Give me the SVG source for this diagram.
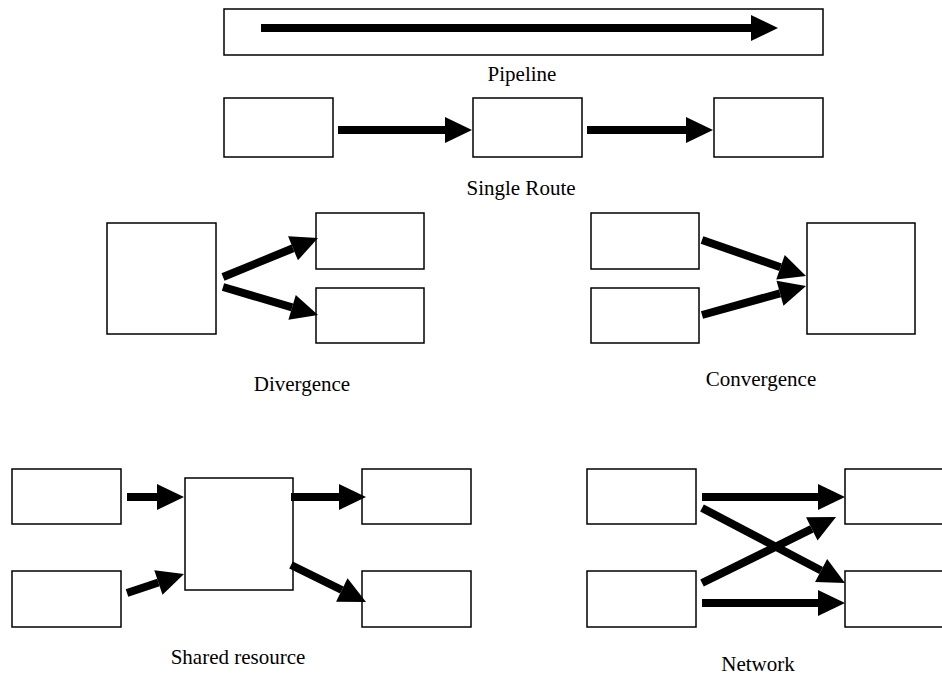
<svg xmlns="http://www.w3.org/2000/svg" width="942" height="677" viewBox="0 0 942 677">
<style>
.box{fill:#fff;stroke:#000;stroke-width:1.5}
.arr{stroke:#000;stroke-width:8;fill:none;marker-end:url(#ah)}
.lbl{font-family:"Liberation Serif","Times New Roman",serif;font-size:21px;fill:#000;text-anchor:middle}
</style>
<defs>
<marker id="ah" markerUnits="userSpaceOnUse" markerWidth="28" markerHeight="28" viewBox="0 -14 28 28" refX="0" refY="0" orient="auto" overflow="visible">
<path d="M0,-13 L27,0 L0,13 Z" fill="#000"/>
</marker>
</defs>
<rect width="942" height="677" fill="#fff"/>

<g id="pipeline"><rect class="box" x="224" y="9" width="599" height="46"/></g>

<g id="sr-a"><rect class="box" x="224" y="98" width="109" height="59"/></g>
<g id="sr-b"><rect class="box" x="473" y="98" width="109" height="59"/></g>
<g id="sr-c"><rect class="box" x="714" y="98" width="109" height="59"/></g>

<g id="div-src"><rect class="box" x="107" y="223" width="109" height="111"/></g>
<g id="div-t1"><rect class="box" x="316" y="213" width="108" height="56"/></g>
<g id="div-t2"><rect class="box" x="316" y="288" width="108" height="55"/></g>

<g id="conv-s1"><rect class="box" x="591" y="213" width="108" height="56"/></g>
<g id="conv-s2"><rect class="box" x="591" y="288" width="108" height="55"/></g>
<g id="conv-dst"><rect class="box" x="807" y="223" width="108" height="111"/></g>

<g id="sh-in1"><rect class="box" x="12" y="469" width="109" height="55"/></g>
<g id="sh-in2"><rect class="box" x="12" y="571" width="109" height="56"/></g>
<g id="sh-res"><rect class="box" x="185" y="478" width="108" height="112"/></g>
<g id="sh-out1"><rect class="box" x="362" y="469" width="109" height="55"/></g>
<g id="sh-out2"><rect class="box" x="362" y="571" width="109" height="56"/></g>

<g id="net-s1"><rect class="box" x="587" y="469" width="109" height="55"/></g>
<g id="net-s2"><rect class="box" x="587" y="571" width="109" height="56"/></g>
<g id="net-d1"><rect class="box" x="845" y="469" width="109" height="55"/></g>
<g id="net-d2"><rect class="box" x="845" y="571" width="109" height="56"/></g>

<g id="connectors">
<line class="arr" x1="261" y1="28" x2="751" y2="28"/>
<line class="arr" x1="338" y1="130" x2="445" y2="130"/>
<line class="arr" x1="587" y1="130" x2="686" y2="130"/>
<line class="arr" x1="223" y1="277" x2="293" y2="248.3"/>
<line class="arr" x1="223" y1="287" x2="292.1" y2="307.4"/>
<line class="arr" x1="702" y1="240" x2="780.5" y2="267.2"/>
<line class="arr" x1="702" y1="315" x2="780" y2="293.3"/>
<line class="arr" x1="127" y1="497" x2="157" y2="497"/>
<line class="arr" x1="127" y1="593" x2="158.4" y2="582.5"/>
<line class="arr" x1="291" y1="497" x2="339" y2="497"/>
<line class="arr" x1="291" y1="565" x2="341.8" y2="590"/>
<line class="arr" x1="702" y1="497" x2="818" y2="497"/>
<line class="arr" x1="702" y1="603" x2="818" y2="603"/>
<line class="arr" x1="702" y1="508" x2="821.1" y2="570.5"/>
<line class="arr" x1="702" y1="583" x2="811.8" y2="528.9"/>
</g>

<g id="labels">
<text class="lbl" x="522" y="81">Pipeline</text>
<text class="lbl" x="521" y="195">Single Route</text>
<text class="lbl" x="302" y="391">Divergence</text>
<text class="lbl" x="761" y="386">Convergence</text>
<text class="lbl" x="238" y="664">Shared resource</text>
<text class="lbl" x="758" y="671">Network</text>
</g>
</svg>
